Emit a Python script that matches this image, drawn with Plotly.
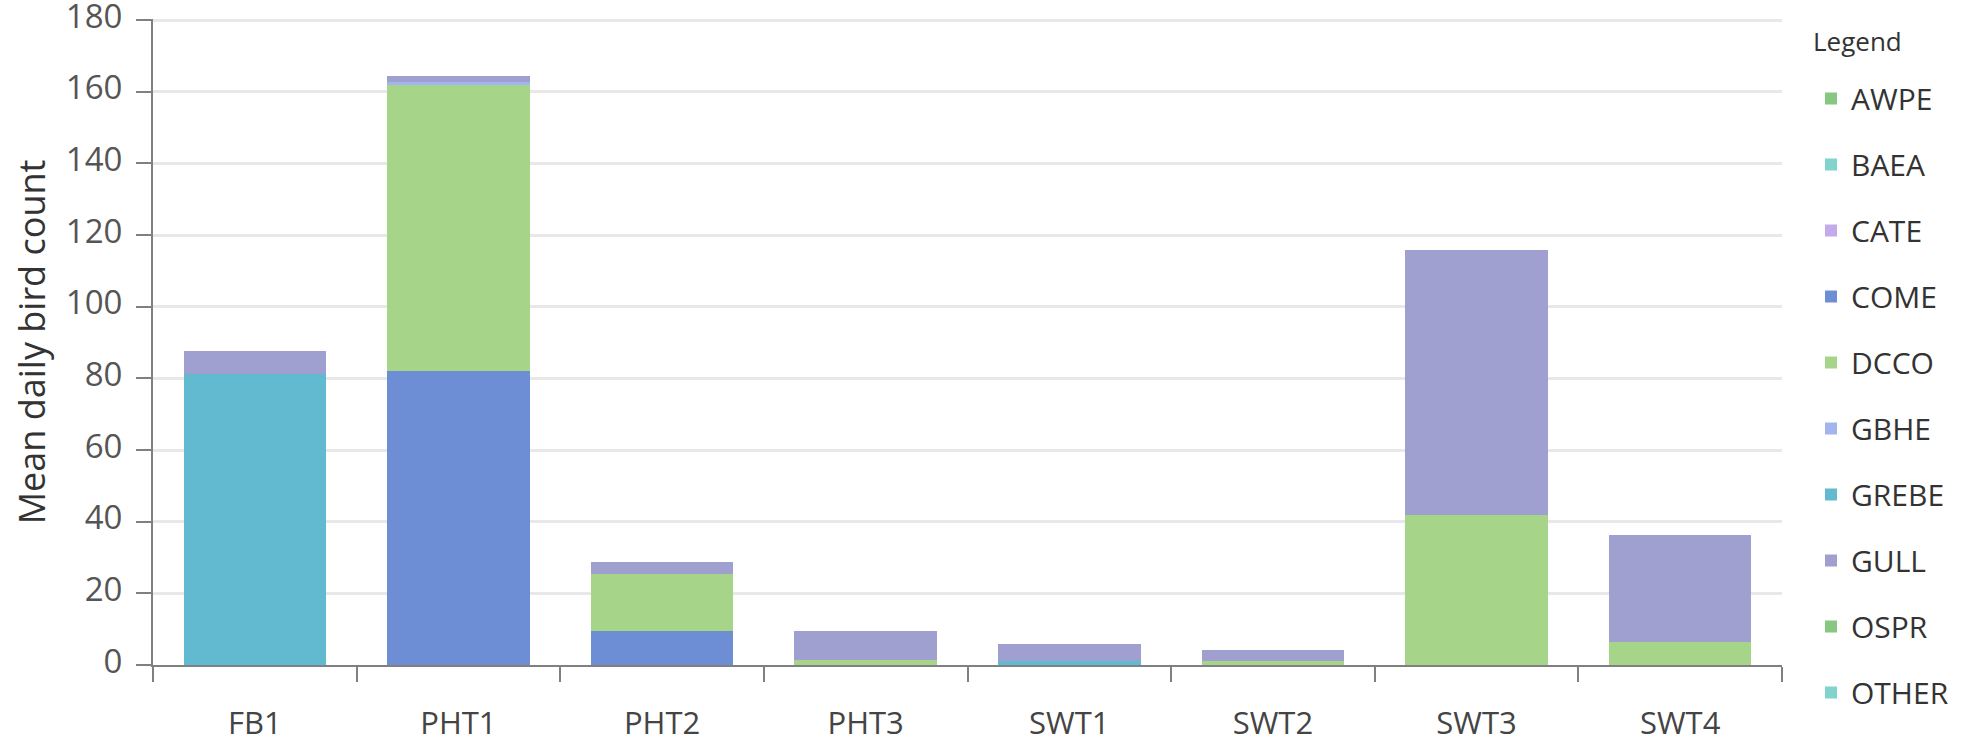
import plotly.graph_objects as go

sites = ["FB1", "PHT1", "PHT2", "PHT3", "SWT1", "SWT2", "SWT3", "SWT4"]

AWPE  = [0, 0, 0, 0, 0, 0, 0, 0]
BAEA  = [0, 0, 0, 0, 0, 0, 0, 0]
CATE  = [0, 0, 0, 0, 0, 0, 0, 0]
COME  = [0, 82, 9.6, 0, 0, 0, 0, 0]
DCCO  = [0, 80, 15.8, 1.4, 0, 1.2, 42, 6.4]
GBHE  = [0, 0.8, 0, 0, 0, 0, 0, 0]
GREBE = [81.2, 0, 0, 0, 1.1, 0, 0, 0]
GULL  = [6.4, 1.7, 3.3, 8.0, 4.9, 3.1, 73.7, 30]
OSPR  = [0, 0, 0, 0, 0, 0, 0, 0]
OTHER = [0, 0, 0, 0, 0, 0, 0, 0]

species = ["AWPE", "BAEA", "CATE", "COME", "DCCO", "GBHE", "GREBE", "GULL", "OSPR", "OTHER"]
values = [AWPE, BAEA, CATE, COME, DCCO, GBHE, GREBE, GULL, OSPR, OTHER]
colors = ["#88c77f", "#80d4cc", "#c4aaeb", "#6d8ed4", "#a6d489",
          "#a4b4ee", "#62bad0", "#a0a0d0", "#88c77f", "#80d4cc"]

y_ticks = [0, 20, 40, 60, 80, 100, 120, 140, 160, 180]

FONT = "Open Sans"
FS = 33
W, H = 1968, 745

fig = go.Figure()
for name, vals, col in zip(species, values, colors):
    fig.add_trace(go.Bar(
        x=sites, y=vals, name=name, legendgroup=name,
        marker=dict(color=col, line=dict(width=0)),
    ))

fig.update_layout(
    barmode="stack",
    bargap=0.30,
    width=W, height=H,
    margin=dict(l=153, r=186, t=19, b=80),
    plot_bgcolor="white", paper_bgcolor="white",
    font=dict(family=FONT, size=FS, color="#444444"),
    legend=dict(
        traceorder="grouped", tracegroupgap=24,
        font=dict(family=FONT, size=30, color="#333333"),
        xref="container", yref="container",
        x=1811 / W, y=1 - 72.5 / H, xanchor="left", yanchor="top",
        itemwidth=30, maxheight=H,
    ),
    showlegend=True,
    annotations=[dict(
        text="Legend", xref="paper", yref="paper",
        x=1, y=1, xshift=1811 - (W - 186), yshift=-(41 - 19),
        xanchor="left", yanchor="middle", showarrow=False,
        font=dict(family=FONT, size=26, color="#333333"),
    )],
)

fig.update_yaxes(
    range=[0, 180.3], tickvals=y_ticks, ticktext=[str(v) for v in y_ticks],
    automargin=False, ticklabeloverflow="allow",
    showgrid=True, gridcolor="#e8e8e8", gridwidth=2.5,
    showline=True, linecolor="#808080", linewidth=2,
    ticks="outside", ticklen=15, tickwidth=2, tickcolor="#808080",
    ticklabelstandoff=7, ticklabelshift=-4,
    tickfont=dict(family=FONT, size=FS, color="#555555"),
    title=dict(text="Mean daily bird count", standoff=9,
               font=dict(family=FONT, size=36, color="#333333")),
    zeroline=False,
)

fig.update_xaxes(
    automargin=False, ticklabeloverflow="allow",
    showline=True, linecolor="#808080", linewidth=2,
    ticks="outside", ticklen=15, tickwidth=2, tickcolor="#808080",
    tickson="boundaries",
    ticklabelstandoff=30,
    tickfont=dict(family=FONT, size=31, color="#444444"),
    showgrid=False,
)

fig.write_html("out.html", config={"displayModeBar": False},
               post_script="document.body.style.margin='0';")
